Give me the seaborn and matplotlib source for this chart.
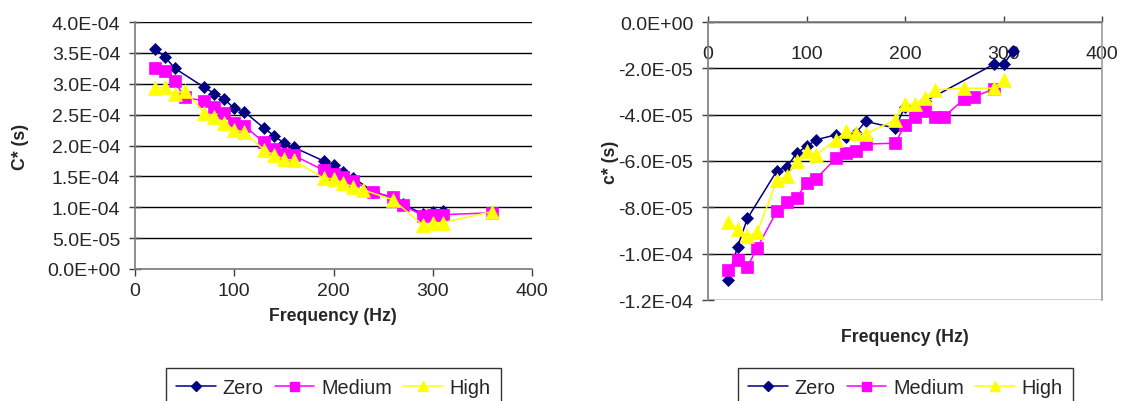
import numpy as np
import pandas as pd
import matplotlib
matplotlib.use("Agg")
import matplotlib.pyplot as plt
from matplotlib.ticker import FuncFormatter
from matplotlib.lines import Line2D
import seaborn as sns

# ---------------- data ----------------
series_names = ["Zero", "Medium", "High"]

# Left chart: C* (s)
freq_zero_L = [20, 30, 40, 70, 80, 90, 100, 110, 130, 140, 150, 160, 190, 200, 210, 220, 240, 260, 270, 290, 300, 310]
zero_L = [3.56e-4, 3.44e-4, 3.25e-4, 2.94e-4, 2.84e-4, 2.75e-4, 2.60e-4, 2.55e-4, 2.28e-4, 2.16e-4, 2.04e-4, 1.97e-4,
          1.75e-4, 1.69e-4, 1.57e-4, 1.48e-4, 1.25e-4, 1.15e-4, 1.05e-4, 0.89e-4, 0.92e-4, 0.94e-4]

freq_med_L = [20, 30, 40, 50, 70, 80, 90, 100, 110, 130, 140, 150, 160, 190, 200, 210, 220, 240, 260, 270, 290, 300, 310, 360]
med_L = [3.25e-4, 3.21e-4, 3.04e-4, 2.78e-4, 2.72e-4, 2.62e-4, 2.53e-4, 2.36e-4, 2.32e-4, 2.05e-4, 1.95e-4, 1.87e-4,
         1.84e-4, 1.60e-4, 1.54e-4, 1.49e-4, 1.42e-4, 1.25e-4, 1.16e-4, 1.04e-4, 0.86e-4, 0.88e-4, 0.88e-4, 0.91e-4]

freq_high_L = [20, 30, 40, 50, 70, 80, 90, 100, 110, 130, 140, 150, 160, 190, 200, 210, 220, 230, 260, 290, 300, 310, 360]
high_L = [2.93e-4, 2.94e-4, 2.83e-4, 2.89e-4, 2.53e-4, 2.46e-4, 2.37e-4, 2.25e-4, 2.22e-4, 1.93e-4, 1.85e-4, 1.78e-4,
          1.76e-4, 1.47e-4, 1.46e-4, 1.39e-4, 1.33e-4, 1.28e-4, 1.12e-4, 0.71e-4, 0.75e-4, 0.75e-4, 0.93e-4]

# Right chart: c* (s)
freq_zero_R = [20, 30, 40, 70, 80, 90, 100, 110, 130, 140, 150, 160, 190, 200, 210, 220, 290, 300, 310]
zero_R = [-11.13e-5, -9.70e-5, -8.48e-5, -6.42e-5, -6.26e-5, -5.66e-5, -5.37e-5, -5.08e-5, -4.87e-5, -4.97e-5,
          -4.80e-5, -4.29e-5, -4.58e-5, -3.65e-5, -3.84e-5, -3.43e-5, -1.83e-5, -1.83e-5, -1.24e-5]

freq_med_R = [20, 30, 40, 50, 70, 80, 90, 100, 110, 130, 140, 150, 160, 190, 200, 210, 220, 230, 240, 260, 270, 290]
med_R = [-10.72e-5, -10.27e-5, -10.57e-5, -9.74e-5, -8.16e-5, -7.78e-5, -7.59e-5, -6.95e-5, -6.76e-5, -5.87e-5,
         -5.66e-5, -5.58e-5, -5.27e-5, -5.23e-5, -4.44e-5, -4.12e-5, -3.86e-5, -4.08e-5, -4.08e-5, -3.32e-5,
         -3.22e-5, -2.90e-5]

freq_high_R = [20, 30, 40, 50, 70, 80, 90, 100, 110, 130, 140, 150, 160, 190, 200, 210, 220, 230, 260, 290, 300]
high_R = [-8.62e-5, -8.92e-5, -9.24e-5, -9.07e-5, -6.83e-5, -6.66e-5, -5.99e-5, -5.58e-5, -5.73e-5, -5.08e-5,
          -4.72e-5, -4.77e-5, -4.84e-5, -4.22e-5, -3.55e-5, -3.55e-5, -3.29e-5, -2.93e-5, -2.86e-5, -2.86e-5,
          -2.50e-5]

x_ticks = [0, 100, 200, 300, 400]
left_yticks = np.arange(0, 4.01e-4, 0.5e-4)
right_yticks = np.arange(-1.2e-4, 0.01e-5, 2e-5)

# ---------------- style ----------------
sns.set_theme(style="white")
plt.rcParams["font.family"] = ["Liberation Sans", "DejaVu Sans"]

colors = {"Zero": "#000080", "Medium": "#FF00FF", "High": "#FFFF00"}
markers = {"Zero": "D", "Medium": "s", "High": "^"}
msizes = {"Zero": 6.5, "Medium": 9, "High": 10}

W, H = 1122, 402
fig = plt.figure(figsize=(W / 100, H / 100), dpi=100)

axL = fig.add_axes([135 / W, 1 - 270 / H, (532 - 135) / W, (270 - 23) / H])
axR = fig.add_axes([708 / W, 1 - 301 / H, (1102 - 708) / W, (301 - 23) / H])


def draw(ax, data):
    for name, (fx, fy) in zip(series_names, data):
        df = pd.DataFrame({"f": fx, "v": fy})
        sns.lineplot(data=df, x="f", y="v", ax=ax, color=colors[name], marker=markers[name],
                     markersize=msizes[name], markeredgecolor=colors[name], markeredgewidth=0.5,
                     linewidth=1.1, sort=False, legend=False, zorder=3)


draw(axL, [(freq_zero_L, zero_L), (freq_med_L, med_L), (freq_high_L, high_L)])
draw(axR, [(freq_zero_R, zero_R), (freq_med_R, med_R), (freq_high_R, high_R)])

sci = FuncFormatter(lambda v, p: f"{0.0 if abs(v) < 1e-12 else v:.1E}")

# Left axes
axL.set_xlim(0, 400)
axL.set_ylim(0, 4e-4)
axL.set_xticks(x_ticks)
axL.set_yticks(left_yticks)
axL.yaxis.set_major_formatter(sci)
axL.grid(axis="y", color="black", linewidth=1.0)
axL.grid(axis="x", visible=False)
for s in ["top", "right"]:
    axL.spines[s].set_visible(False)
axL.spines["left"].set_color("#808080")
axL.spines["bottom"].set_color("#808080")
axL.tick_params(axis="y", direction="inout", length=8, width=1, color="#404040", labelsize=14, pad=6.5, left=True)
axL.tick_params(axis="x", direction="out", length=5, width=1, color="#404040", labelsize=14, pad=4, bottom=True)
axL.set_xlabel("Frequency (Hz)", fontsize=12.7, fontweight="bold")
axL.set_ylabel("C* (s)", fontsize=12.7, fontweight="bold")
axL.xaxis.set_label_coords((333 - 135) / (532 - 135), (270 - 308) / (270 - 23))
axL.yaxis.set_label_coords((29 - 135) / (532 - 135), 0.5)

# Right axes
axR.set_xlim(0, 400)
axR.set_ylim(-1.2e-4, 0)
axR.set_xticks(x_ticks)
axR.set_yticks(right_yticks)
axR.yaxis.set_major_formatter(sci)
axR.grid(axis="y", color="black", linewidth=1.0)
axR.grid(axis="x", visible=False)
axR.xaxis.tick_top()
axR.spines["bottom"].set_visible(False)
axR.spines["top"].set_color("#808080")
axR.spines["left"].set_color("#808080")
axR.spines["right"].set_color("#a0a0a0")
axR.tick_params(axis="y", direction="inout", length=8, width=1, color="#404040", labelsize=14, pad=6.5, left=True)
axR.tick_params(axis="x", direction="out", length=4, width=1, color="#404040", labelsize=14,
                top=True, bottom=False, labeltop=True, labelbottom=False, pad=-33)
axR.set_xlabel("")
axR.set_ylabel("c* (s)", fontsize=12.7, fontweight="bold")
axR.yaxis.set_label_coords((619 - 708) / (1102 - 708), 0.5)
axR.text(0.5, (301 - 338) / (301 - 23), "Frequency (Hz)", transform=axR.transAxes, ha="center", va="center",
         fontsize=12.7, fontweight="bold")

# Legends
handles = [Line2D([0], [0], color=colors[n], marker=markers[n], markersize=msizes[n] * 0.72,
                  markeredgecolor=colors[n], linewidth=1.1) for n in series_names]
for x0 in (166 / W, 738 / W):
    leg = fig.legend(handles, series_names, loc="upper left", bbox_to_anchor=(x0, 1 - 369 / H), ncol=3,
                     fontsize=14.3, frameon=True, fancybox=False, shadow=False, borderpad=0.5,
                     handlelength=2.0, handletextpad=0.35, columnspacing=0.55, borderaxespad=0)
    leg.get_frame().set_edgecolor("black")
    leg.get_frame().set_linewidth(1.0)

fig.savefig("out.png", dpi=100, facecolor="white")
